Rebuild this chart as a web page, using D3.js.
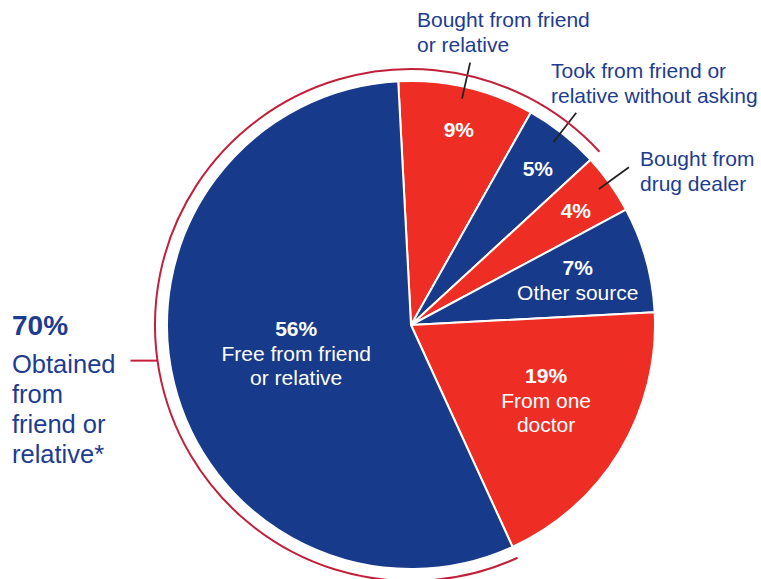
<!DOCTYPE html>
<html>
<head>
<meta charset="utf-8">
<script src="https://cdn.jsdelivr.net/npm/d3@7"></script>
<style>
  body { margin: 0; background: #fff; }
  svg { display: block; font-family: "Liberation Sans", Arial, sans-serif; }
</style>
</head>
<body>
<svg id="pie" width="761" height="579"></svg>
<script>
// slices, clockwise from the top
var sources = ["Bought from friend or relative", "Took from friend or relative without asking",
               "Bought from drug dealer", "Other source", "From one doctor", "Free from friend or relative"];
var shares = [9, 5, 4, 7, 19, 56];
var insideText = [[], [], [], ["Other source"], ["From one", "doctor"], ["Free from friend", "or relative"]];
var outsideText = [["Bought from friend", "or relative"], ["Took from friend or", "relative without asking"],
                   ["Bought from", "drug dealer"], [], [], []];
var friendSlices = ["Bought from friend or relative", "Took from friend or relative without asking",
                    "Free from friend or relative"];
var friendTotal = "70%";
var friendText = ["Obtained", "from", "friend or", "relative*"];

var blue = "#173a8a", red = "#ee2e24", darkRed = "#c21f3a", textBlue = "#1d3c90";
var colors = [red, blue, red, blue, red, blue];

var cx = 411, cy = 325, radius = 244, ringR = 256;
var rot = -3 * Math.PI / 180;

var svg = d3.select("#pie");
var g = svg.append("g").attr("transform", "translate(" + cx + "," + cy + ")");

var pie = d3.pie().sort(null).value(function(d) { return d; })
            .startAngle(rot).endAngle(rot + 2 * Math.PI);
var arcs = pie(shares);
var arc = d3.arc().innerRadius(0).outerRadius(radius);

g.selectAll("path.slice")
  .data(arcs)
  .enter().append("path")
  .attr("class", "slice")
  .attr("d", arc)
  .attr("fill", function(d, i) { return colors[i]; })
  .attr("stroke", "#fff")
  .attr("stroke-width", 2)
  .attr("stroke-linejoin", "round");

// label placement inside slices: [radius, angle shift in degrees]
var labelPlace = [[202, 0.5], [202, 0.5], [201, 0.5], [173, 0.2], [154, -2.5], [118, 0.5]];
function polar(r, a) { return [r * Math.sin(a), -r * Math.cos(a)]; }

arcs.forEach(function(d, i) {
  var mid = (d.startAngle + d.endAngle) / 2 + labelPlace[i][1] * Math.PI / 180;
  var p = polar(labelPlace[i][0], mid);
  var lines = insideText[i];
  var top = p[1] - (lines.length * 24) / 2 + 8;
  var t = g.append("text")
    .attr("text-anchor", "middle")
    .attr("fill", "#fff")
    .style("font-size", "21px");
  t.append("tspan").attr("x", p[0]).attr("y", top)
    .style("font-weight", "bold").text(shares[i] + "%");
  lines.forEach(function(l, k) {
    t.append("tspan").attr("x", p[0]).attr("y", top + 24 * (k + 1) + 1).text(l);
  });
});

// leaders + outside labels
var outsidePos = [[417, 27], [551, 78], [640, 166]];
arcs.forEach(function(d, i) {
  if (!outsideText[i].length) return;
  var mid = (d.startAngle + d.endAngle) / 2 - 0.5 * Math.PI / 180;
  var a = polar(232, mid), b = polar(269, mid);
  g.append("line")
    .attr("x1", a[0]).attr("y1", a[1]).attr("x2", b[0]).attr("y2", b[1])
    .attr("stroke", "#222").attr("stroke-width", 1.8);
  var t = svg.append("text").attr("fill", textBlue).style("font-size", "21px");
  outsideText[i].forEach(function(l, k) {
    t.append("tspan").attr("x", outsidePos[i][0]).attr("y", outsidePos[i][1] + 24.5 * k).text(l);
  });
});

// ring around the friend/relative slices
var friendArcs = arcs.filter(function(d, i) { return friendSlices.indexOf(sources[i]) >= 0; });
var last = friendArcs[friendArcs.length - 1];
var ringStart = last.startAngle;
var ringEnd = 2 * Math.PI + d3.max(friendArcs.slice(0, -1), function(d) { return d.endAngle; });
g.append("path")
  .attr("d", d3.arc().innerRadius(ringR).outerRadius(ringR)({ startAngle: ringStart, endAngle: ringEnd }))
  .attr("fill", "none")
  .attr("stroke", darkRed)
  .attr("stroke-width", 2);

var tickA = 262 * Math.PI / 180;
var tp = polar(ringR, tickA);
g.append("line")
  .attr("x1", tp[0]).attr("y1", tp[1]).attr("x2", tp[0] - 27).attr("y2", tp[1])
  .attr("stroke", darkRed).attr("stroke-width", 2);

svg.append("text")
  .attr("x", 12).attr("y", 335)
  .attr("fill", textBlue)
  .style("font-size", "28px").style("font-weight", "bold")
  .text(friendTotal);

var ft = svg.append("text").attr("fill", textBlue).style("font-size", "25.5px");
friendText.forEach(function(l, k) {
  ft.append("tspan").attr("x", 12).attr("y", 373 + 30 * k).text(l);
});
</script>
</body>
</html>
